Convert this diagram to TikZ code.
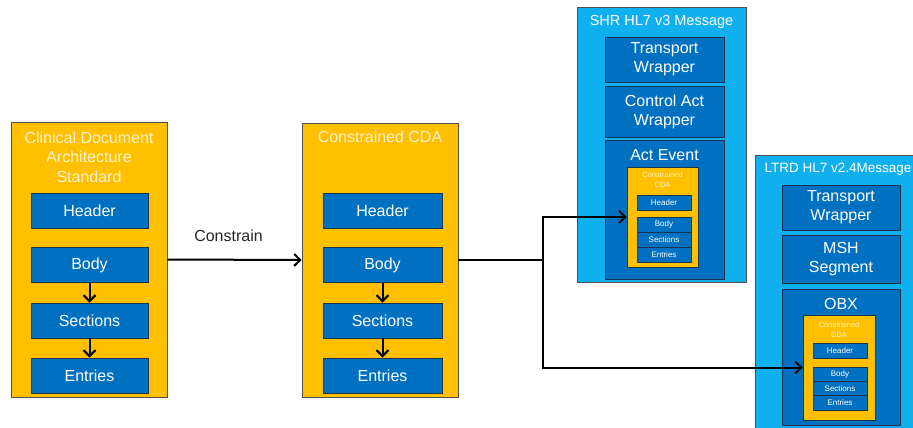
\documentclass[tikz,border=0pt]{standalone}
\usepackage{fontspec}
\setmainfont{Liberation Sans}
\usetikzlibrary{arrows.meta}

\definecolor{cdayellow}{HTML}{FFC000}
\definecolor{titlecream}{HTML}{FFF2CC}
\definecolor{partblue}{HTML}{0070C0}
\definecolor{partedge}{HTML}{1C3350}
\definecolor{msgblue}{HTML}{10B0EE}
\definecolor{frameedge}{HTML}{505050}
\definecolor{labelgray}{HTML}{262626}

\newcommand{\fs}[2]{\fontsize{#1}{#2}\selectfont}

\tikzset{
  doc/.style={draw=frameedge, line width=0.8pt, fill=cdayellow, inner sep=0pt},
  doctitle/.style={text=titlecream, align=center, inner sep=0pt, font=\fs{16}{19.5}},
  part/.style={draw=partedge, line width=0.9pt, fill=partblue, text=white,
    align=center, inner sep=0pt, font=\fs{16}{19}},
  msg/.style={draw=frameedge, line width=0.8pt, fill=msgblue, inner sep=0pt},
  msgtitle/.style={text=white, inner sep=0pt, font=\fs{14.5}{17}},
  minidoc/.style={draw=partedge, line width=0.8pt, fill=cdayellow, inner sep=0pt},
  minititle/.style={text=titlecream, align=center, inner sep=0pt, font=\fs{7.5}{10}},
  minipart/.style={draw=partedge, line width=1pt, fill=partblue, text=white,
    inner sep=0pt, minimum width=54pt, minimum height=15pt, font=\fs{8}{9}},
  flow/.style={draw=black, line width=2pt,
    -{Straight Barb[length=6pt,width=12pt,line width=2pt]}},
  link/.style={draw=black, line width=2pt},
}

\begin{document}
\begin{tikzpicture}[x=1pt, y=-1pt]
\clip (0,0) rectangle (913,428);
\fill[white] (0,0) rectangle (913,428);

% ---------- Clinical Document Architecture standard ----------
\node[doc, minimum width=156pt, minimum height=275pt] (cda) at (89,259.5) {};
\node[doctitle] (cdatitle) at (89,157) {Clinical Document\\Architecture\\Standard};
\node[part, minimum width=117pt, minimum height=35pt] (cdahead) at (89.5,210.5) {Header};
\node[part, minimum width=117pt, minimum height=35pt] (cdabody) at (89.5,265) {Body};
\node[part, minimum width=117pt, minimum height=35pt] (cdasect) at (89.5,320.5) {Sections};
\node[part, minimum width=117pt, minimum height=35pt] (cdaentr) at (89.5,375.5) {Entries};
\draw[flow] (cdabody) -- (cdasect);
\draw[flow] (cdasect) -- (cdaentr);

% ---------- Constrained CDA ----------
\node[doc, minimum width=156pt, minimum height=274pt] (ccda) at (380,260) {};
\node[doctitle] (ccdatitle) at (380,137) {Constrained CDA};
\node[part, minimum width=119pt, minimum height=35pt] (ccdahead) at (382.5,210.5) {Header};
\node[part, minimum width=119pt, minimum height=35pt] (ccdabody) at (382.5,265) {Body};
\node[part, minimum width=119pt, minimum height=35pt] (ccdasect) at (382.5,320.5) {Sections};
\node[part, minimum width=119pt, minimum height=35pt] (ccdaentr) at (382.5,375.5) {Entries};
\draw[flow] (ccdabody) -- (ccdasect);
\draw[flow] (ccdasect) -- (ccdaentr);

\draw[flow] (cda.east) -- node[above=14pt, xshift=-6pt, text=labelgray, font=\fs{16}{19}] (constrain) {Constrain} (ccda.west);

% ---------- SHR HL7 v3 message ----------
\node[msg, minimum width=169pt, minimum height=275pt] (shr) at (661.5,144.5) {};
\node[msgtitle] (shrtitle) at (661.5,22) {SHR HL7 v3 Message};
\node[part, minimum width=119pt, minimum height=45pt] (shrtrans) at (664.5,59.5) {Transport\\Wrapper};
\node[part, minimum width=119pt, minimum height=51pt] (shrctrl) at (664.5,111.5) {Control Act\\Wrapper};
\node[part, minimum width=119pt, minimum height=139pt] (shract) at (664.5,209.5) {};
\node[text=white, inner sep=0pt, font=\fs{16}{19}] (shracttitle) at (664.5,155) {Act Event};
\node[minidoc, minimum width=71pt, minimum height=100pt] (shrcda) at (662.5,217) {};
\node[minititle] (shrcdatitle) at (662.5,180) {Constrained\\CDA};
\node[minipart] (shrhead) at (664,202.5) {Header};
\node[minipart] (shrbody) at (664,224.5) {Body};
\node[minipart] (shrsect) at (664,239.5) {Sections};
\node[minipart] (shrentr) at (664,254.5) {Entries};

% ---------- LTRD HL7 v2.4 message ----------
\node[msg, minimum width=170pt, minimum height=290pt] (ltrd) at (840,300) {};
\node[msgtitle, font=\fs{13.5}{16}] (ltrdtitle) at (838,169) {LTRD HL7 v2.4Message};
\node[part, minimum width=118pt, minimum height=45pt] (ltrdtrans) at (841,207.5) {Transport\\Wrapper};
\node[part, minimum width=118pt, minimum height=48pt] (ltrdmsh) at (841,259) {MSH\\Segment};
\node[part, minimum width=118pt, minimum height=136pt] (ltrdobx) at (841,357) {};
\node[text=white, inner sep=0pt, font=\fs{16}{19}] (ltrdobxtitle) at (841,304) {OBX};
\node[minidoc, minimum width=72pt, minimum height=105pt] (ltrdcda) at (839,367.5) {};
\node[minititle] (ltrdcdatitle) at (839,330) {Constrained\\CDA};
\node[minipart] (ltrdhead) at (840,350.5) {Header};
\node[minipart] (ltrdbody) at (840,374.5) {Body};
\node[minipart] (ltrdsect) at (840,389) {Sections};
\node[minipart] (ltrdentr) at (840,403) {Entries};

% ---------- constrained CDA carried in both messages ----------
\coordinate (split) at (543,260);
\draw[link] (ccda.east) -- (split);
\draw[flow] (split) |- (shrcda.west);
\draw[flow] (split) |- (ltrdcda.west);
\end{tikzpicture}
\end{document}
